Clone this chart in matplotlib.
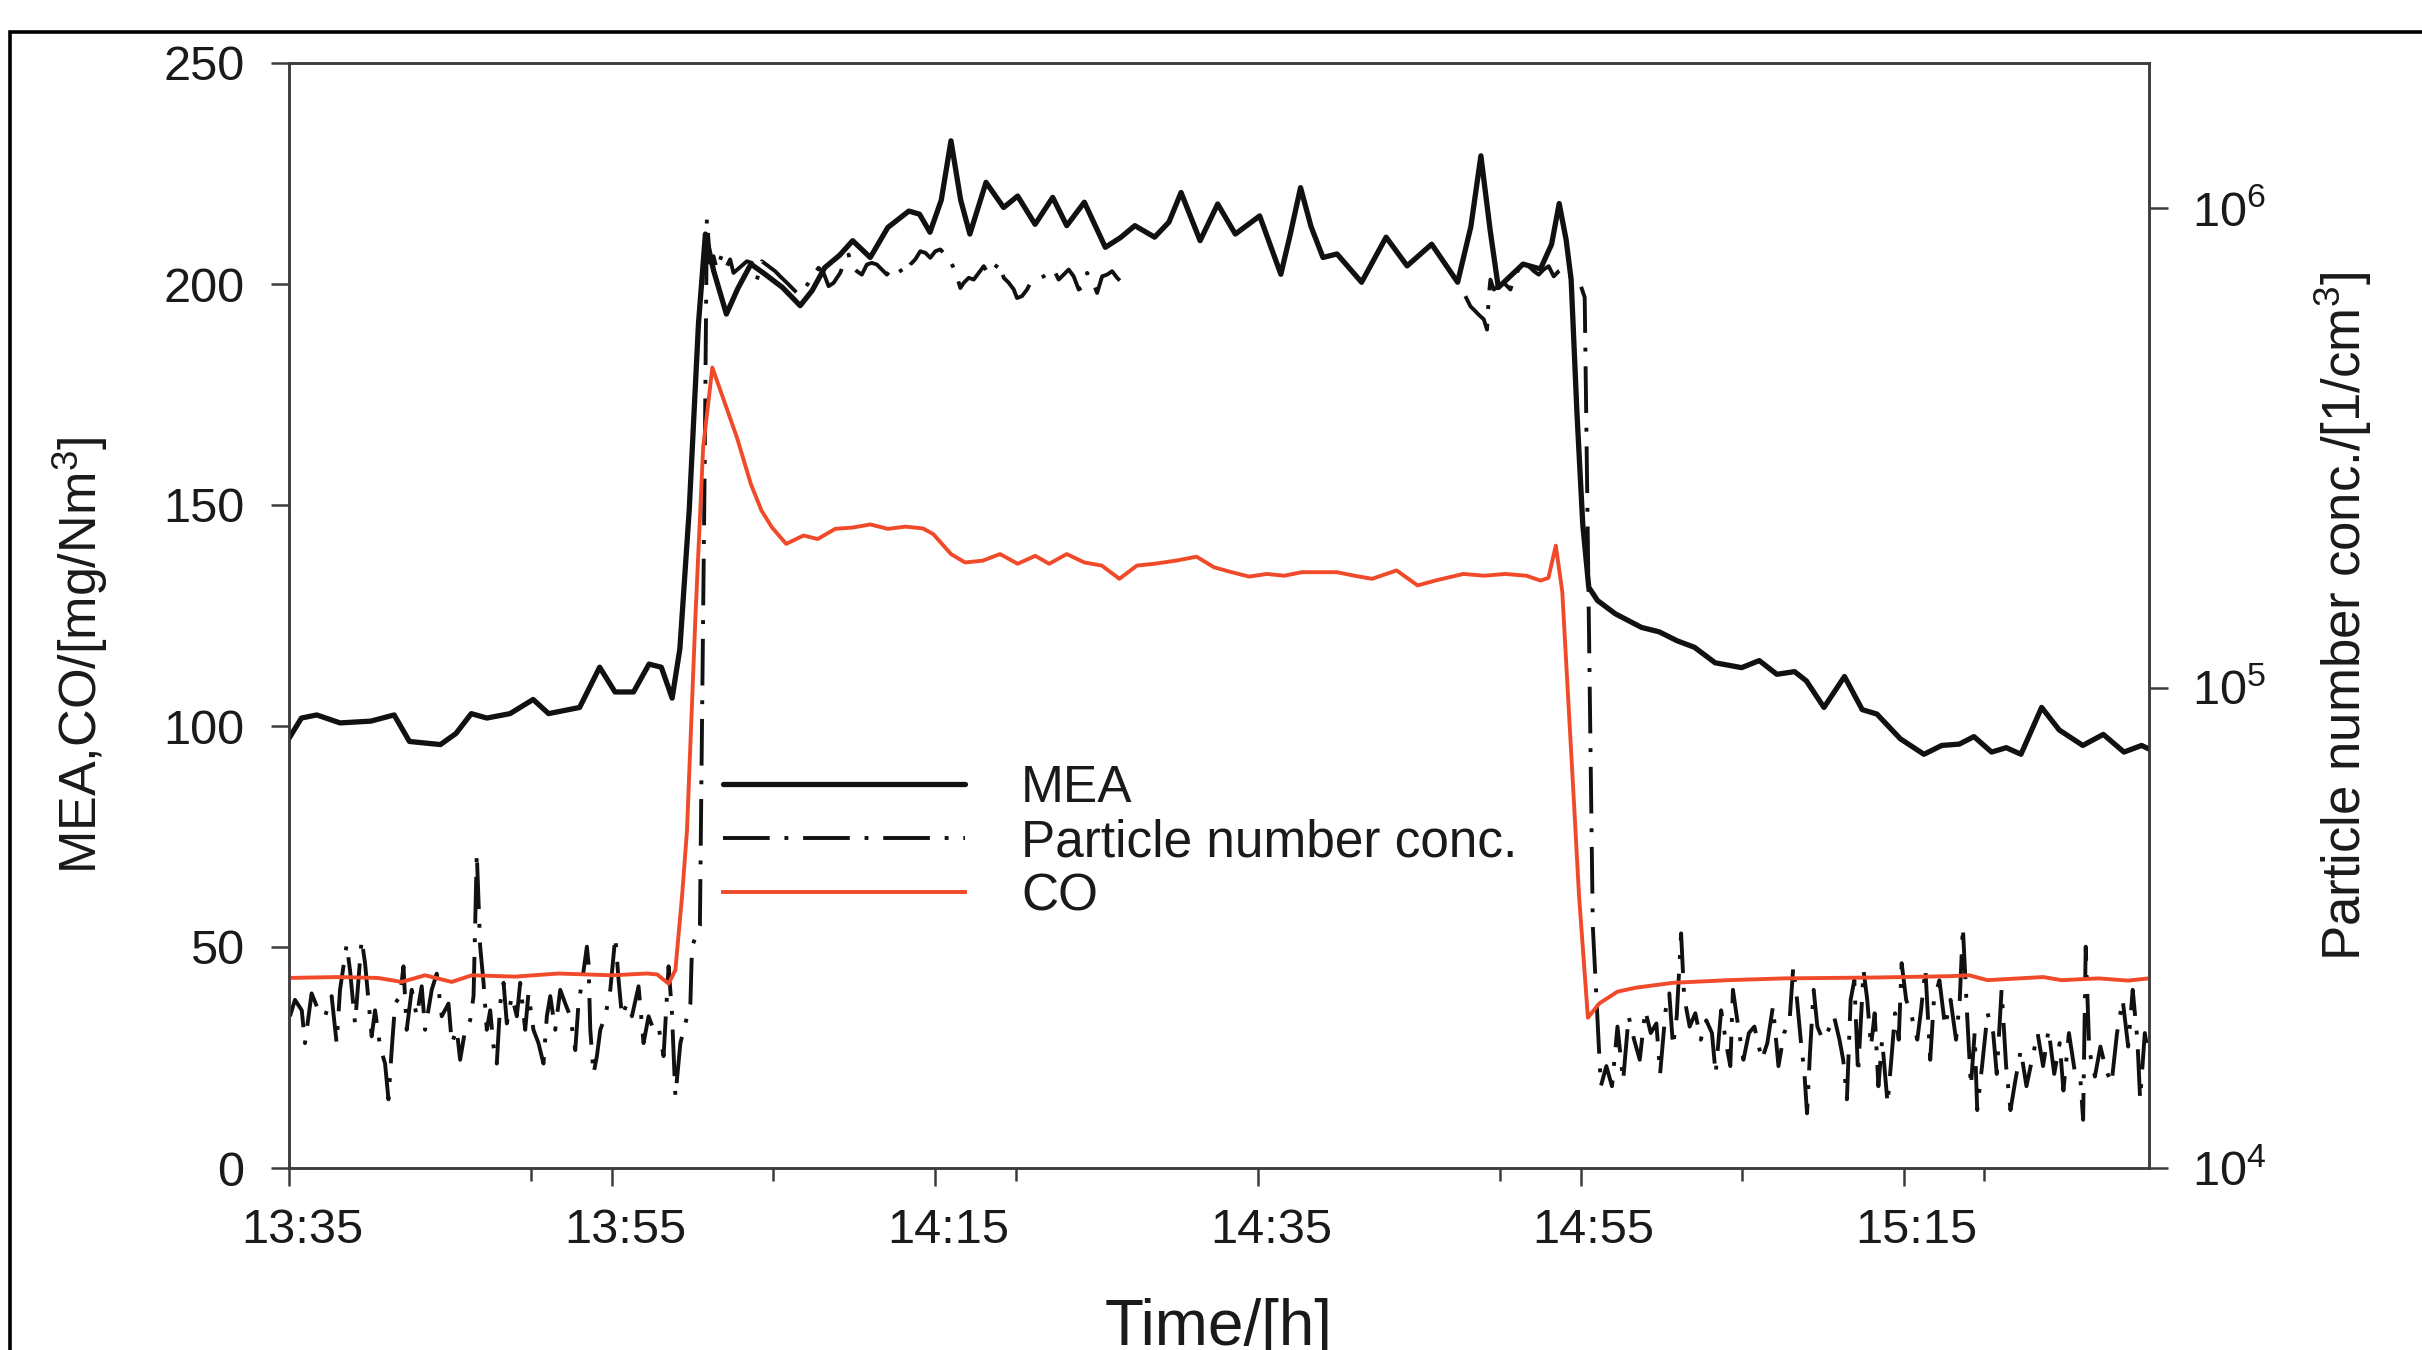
import numpy as np
import matplotlib
matplotlib.use("Agg")
import matplotlib.pyplot as plt
from matplotlib.ticker import FixedLocator, NullLocator
from matplotlib.transforms import ScaledTranslation
from matplotlib.patches import Rectangle

# ---------------- data (time in minutes after 13:35) ----------------
xtick_minutes = [0, 20, 40, 60, 80, 100]
xtick_labels = ["13:35", "13:55", "14:15", "14:35", "14:55", "15:15"]
xminor_minutes = [15, 30, 45, 60, 75, 90, 105]
left_ticks = [0, 50, 100, 150, 200, 250]
right_ticks = [1e4, 1e5, 1e6]

mea_t = [0.0, 0.77, 1.72, 3.16, 5.07, 6.51, 7.46, 9.38, 10.34, 11.29, 12.25, 13.69, 15.12,
         16.08, 18.0, 19.24, 20.19, 21.34, 22.3, 23.06, 23.73, 24.21, 24.79, 25.36, 25.79,
         26.3, 27.09, 27.8, 28.61, 29.49, 30.57, 31.66, 32.4, 33.18, 34.1, 34.91, 36.0,
         37.09, 38.39, 39.05, 39.70, 40.4, 41.0, 41.6, 42.17, 43.17, 44.26, 45.13, 46.21,
         47.30, 48.17, 49.26, 50.56, 51.5, 52.39, 53.61, 54.5, 55.25, 56.43, 57.52, 58.61,
         60.12, 61.43, 62.0, 62.65, 63.3, 64.04, 64.91, 66.43, 67.95, 69.25, 70.77, 72.38,
         73.2, 73.82, 74.4, 74.90, 76.43, 77.51, 78.2, 78.67, 79.1, 79.41, 79.77, 80.13,
         80.50, 81.04, 82.14, 83.77, 84.87, 85.96, 87.05, 88.33, 89.97, 91.06, 92.15, 93.25,
         93.98, 95.07, 96.34, 97.44, 98.35, 99.80, 101.26, 102.36, 103.45, 104.36, 105.45,
         106.36, 107.27, 108.55, 109.64, 111.10, 112.37, 113.65, 114.74, 115.2]
mea_v = [97.2, 101.8, 102.5, 100.7, 101.1, 102.5, 96.5, 95.8, 98.3, 102.8, 101.8, 102.8, 106.0,
         102.8, 104.2, 113.3, 107.7, 107.7, 114.0, 113.3, 106.3, 117.5, 149.0, 191.0, 211.3,
         203.0, 193.2, 199.0, 204.5, 202.2, 199.2, 195.1, 198.5, 203.7, 206.5, 209.8, 206.0,
         212.8, 216.5, 215.8, 211.7, 219.0, 232.4, 219.0, 211.3, 223.0, 217.3, 219.9, 213.5,
         219.6, 213.2, 218.5, 208.3, 210.5, 213.2, 210.6, 214.0, 220.7, 209.8, 218.1, 211.3,
         215.4, 202.2, 211.0, 221.8, 213.0, 206.0, 206.8, 200.4, 210.6, 204.1, 209.0, 200.4,
         213.0, 229.0, 212.0, 199.2, 204.5, 203.4, 209.0, 218.2, 210.0, 201.0, 170.8, 145.6,
         131.4, 128.4, 125.4, 122.3, 121.3, 119.3, 117.8, 114.3, 113.2, 114.8, 111.7, 112.3,
         110.2, 104.2, 111.2, 103.7, 102.7, 97.1, 93.6, 95.6, 95.9, 97.6, 94.1,
         95.1, 93.6, 104.2, 99.1, 95.6, 98.1, 94.1, 95.6, 94.8]

co_t = [0.0, 3.0, 5.5, 6.98, 8.43, 10.08, 11.32, 14.0, 16.69, 20.0, 22.17, 22.8, 23.51, 23.93,
        24.34, 24.65, 25.17, 25.65, 26.22, 27.74, 28.61, 29.27, 29.92, 30.79, 31.87, 32.74,
        33.83, 34.92, 36.0, 37.09, 38.18, 39.26, 39.91, 41.0, 41.87, 42.96, 44.04, 45.13,
        46.22, 47.08, 48.17, 49.26, 50.34, 51.43, 52.52, 53.60, 54.91, 56.21, 57.30, 58.38,
        59.47, 60.56, 61.64, 62.73, 64.90, 65.99, 67.08, 68.60, 69.90, 70.99, 72.73, 74.03,
        75.33, 76.64, 77.51, 78.0, 78.46, 78.86, 79.58, 79.9, 80.45, 81.14, 82.28, 83.43,
        85.72, 89.16, 92.6, 98.33, 102.91, 104.06, 105.2, 108.64, 109.79, 112.08, 113.91, 115.2]
co_v = [43.0, 43.2, 43.0, 42.1, 43.6, 42.1, 43.6, 43.3, 44.0, 43.6, 44.0, 43.8, 41.7, 44.8,
        61.3, 76.4, 124.5, 163.0, 181.1, 165.3, 154.7, 148.7, 144.9, 141.2, 143.1, 142.3,
        144.6, 144.9, 145.6, 144.6, 145.1, 144.7, 143.4, 138.9, 137.0, 137.4, 138.9, 136.7,
        138.5, 136.7, 138.9, 137.0, 136.3, 133.3, 136.3, 136.7, 137.4, 138.3, 135.9, 134.8,
        133.8, 134.4, 134.0, 134.8, 134.8, 134.0, 133.3, 135.2, 131.8, 132.9, 134.4, 134.0,
        134.4, 134.0, 132.9, 133.5, 140.8, 130.4, 83.0, 61.5, 34.0, 37.2, 39.9, 40.8,
        41.9, 42.5, 42.9, 43.1, 43.4, 43.6, 42.5, 43.2, 42.5, 42.9, 42.4, 42.9]

pn_t = [0.06, 0.37, 0.79, 0.99, 1.40, 1.82, 2.23, 2.64, 2.95, 3.16, 3.57, 3.78, 4.09, 4.50,
        4.71, 4.92, 5.12, 5.33, 5.64, 5.95, 6.16, 6.36, 6.57, 6.88, 7.09, 7.29, 7.60, 7.91,
        8.22, 8.43, 8.84, 9.15, 9.46, 9.88, 10.08, 10.39, 10.60, 10.91, 11.22, 11.43, 11.63,
        11.84, 12.05, 12.25, 12.46, 12.67, 12.87, 13.08, 13.29, 13.49, 13.80, 14.11, 14.32,
        14.63, 14.83, 15.14, 15.45, 15.76, 15.97, 16.18, 16.49, 16.80, 17.11, 17.42, 17.73,
        17.93, 18.14, 18.45, 18.55, 18.66, 18.86, 19.07, 19.28, 19.59, 19.90, 20.21, 20.41,
        20.62, 20.93, 21.24, 21.65, 21.96, 22.27, 22.58, 22.89, 23.20, 23.51, 23.72, 23.93,
        24.24, 24.55, 24.86, 24.96, 25.45, 25.75, 25.88,
        26.09, 26.29, 26.50, 26.81, 27.12, 27.32, 27.53, 28.36, 28.67, 28.98, 29.29, 29.70,
        30.11, 30.42, 30.84, 31.25, 31.56, 31.87, 32.18, 32.49, 32.80, 33.11, 33.42, 33.73,
        34.14, 34.45, 34.66, 34.86, 35.17, 35.48, 35.79, 36.10, 36.41, 36.72, 37.03, 37.45,
        37.76, 38.07, 38.48, 38.79, 39.10, 39.41, 39.72, 40.03, 40.34, 40.65, 40.96, 41.27,
        41.58, 41.79, 42.10, 42.41, 42.72, 43.03, 43.34, 43.65, 43.96, 44.27, 44.58, 44.89,
        45.09, 45.40, 45.71, 45.92, 46.33, 46.74, 47.05, 47.36, 47.67, 47.98, 48.29, 48.60,
        48.91, 49.22, 49.43, 49.74, 50.05, 50.36, 50.67, 50.98, 51.29, 51.49,
        60.0,
        72.86, 73.17, 73.38, 73.69, 74.00, 74.20, 74.31, 74.41, 74.62, 74.93, 75.24, 75.65,
        75.86, 76.27, 76.48, 76.79, 77.10, 77.40, 77.71, 78.02, 78.33, 78.64, 78.95, 79.26,
        79.57, 79.88, 80.25, 80.75,
        81.25, 81.59, 81.94, 82.28, 82.63, 82.97, 83.31, 83.66, 84.00, 84.34, 84.69, 84.92,
        85.26, 85.49, 85.72, 85.95, 86.22, 86.41, 86.75, 87.10, 87.44, 87.78, 88.13, 88.36,
        88.70, 89.04, 89.27, 89.43, 89.73, 90.08, 90.42, 90.76, 91.22, 91.56, 91.91, 92.25,
        92.60, 92.94, 93.17, 93.40, 93.63, 93.86, 94.02, 94.20, 94.43, 94.66, 95.00, 95.35,
        95.69, 96.03, 96.26, 96.49, 96.72, 96.95, 97.18, 97.52, 97.75, 97.98, 98.21, 98.44,
        98.67, 99.01, 99.24, 99.47, 99.70, 99.88, 100.16, 100.50, 100.85, 101.08, 101.35,
        101.65, 101.88, 102.22, 102.57, 102.91, 103.25, 103.48, 103.67, 103.94, 104.17,
        104.40, 104.56, 104.86, 105.20, 105.55, 105.77, 106.07, 106.35, 106.62, 106.92,
        107.26, 107.61, 107.95, 108.30, 108.64, 108.98, 109.33, 109.67, 109.90, 110.24,
        110.59, 110.93, 111.12, 111.28, 111.50, 111.85, 112.19, 112.54, 112.88, 113.22,
        113.57, 113.91, 114.19, 114.48, 114.65, 114.94, 115.17]
pn_v = [2.07e4, 2.24e4, 2.13e4, 1.82e4, 2.31e4, 2.13e4, 2.07e4, 2.28e4, 1.82e4, 2.35e4, 2.92e4,
        2.58e4, 2.00e4, 2.99e4, 2.67e4, 2.24e4, 1.88e4, 2.13e4, 1.79e4, 1.65e4, 1.39e4, 1.76e4,
        2.20e4, 2.28e4, 2.63e4, 1.94e4, 2.35e4, 2.07e4, 2.39e4, 1.94e4, 2.35e4, 2.54e4, 2.07e4,
        2.20e4, 1.82e4, 1.94e4, 1.68e4, 1.94e4, 2.03e4, 2.28e4, 4.53e4, 2.89e4, 2.43e4, 1.94e4,
        2.13e4, 1.79e4, 1.65e4, 2.20e4, 2.43e4, 2.00e4, 2.28e4, 2.07e4, 2.43e4, 1.94e4, 2.31e4,
        1.94e4, 1.82e4, 1.65e4, 2.07e4, 2.28e4, 1.94e4, 2.35e4, 2.20e4, 2.07e4, 1.76e4, 2.20e4,
        2.43e4, 2.89e4, 2.67e4, 1.94e4, 1.57e4, 1.71e4, 1.94e4, 2.07e4, 2.35e4, 3.03e4, 2.47e4,
        2.07e4, 2.20e4, 2.07e4, 2.39e4, 1.82e4, 2.07e4, 1.94e4, 1.97e4, 1.71e4, 2.63e4, 2.10e4,
        1.41e4, 1.82e4, 2.00e4, 2.20e4, 2.89e4, 3.2e4, 3.0e5, 9.47e5,
        7.67e5, 7.92e5, 7.43e5, 7.98e5, 7.55e5, 7.80e5, 7.31e5, 7.73e5, 7.67e5, 7.08e5, 7.73e5,
        7.55e5, 7.37e5, 7.19e5, 6.97e5, 6.75e5, 6.59e5, 6.75e5, 6.97e5, 7.25e5, 7.49e5, 7.31e5,
        6.86e5, 6.97e5, 7.31e5, 7.80e5, 7.98e5, 7.55e5, 7.37e5, 7.25e5, 7.61e5, 7.67e5, 7.61e5,
        7.43e5, 7.25e5, 7.55e5, 7.49e5, 7.25e5, 7.61e5, 7.80e5, 8.11e5, 8.05e5, 7.86e5, 8.11e5,
        8.18e5, 7.98e5, 7.73e5, 7.37e5, 6.80e5, 6.97e5, 7.14e5, 7.08e5, 7.31e5, 7.55e5, 7.25e5,
        7.43e5, 7.67e5, 7.14e5, 6.97e5, 6.75e5, 6.48e5, 6.54e5, 6.75e5, 6.97e5, 7.08e5, 7.19e5,
        7.31e5, 7.43e5, 7.08e5, 7.25e5, 7.43e5, 7.19e5, 6.75e5, 6.86e5, 7.31e5, 7.08e5, 6.64e5,
        7.19e5, 7.25e5, 7.37e5, 7.14e5, 7.03e5,
        np.nan,
        6.54e5, 6.23e5, 6.13e5, 5.98e5, 5.85e5, 5.57e5, 6.54e5, 7.08e5, 6.75e5, 6.86e5, 6.97e5,
        6.75e5, 7.14e5, 7.55e5, 7.73e5, 7.55e5, 7.37e5, 7.25e5, 7.43e5, 7.55e5, 7.19e5, 7.37e5,
        7.49e5, 7.25e5, 7.08e5, 7.08e5, 6.5e5, 3.2e4,
        1.48e4, 1.63e4, 1.48e4, 1.97e4, 1.52e4, 2.07e4, 1.85e4, 1.68e4, 2.13e4, 1.91e4, 2.00e4,
        1.57e4, 2.13e4, 2.31e4, 1.79e4, 2.07e4, 3.08e4, 2.27e4, 1.97e4, 2.10e4, 1.85e4, 2.03e4,
        1.91e4, 1.57e4, 2.13e4, 1.79e4, 1.63e4, 2.35e4, 2.00e4, 1.68e4, 1.91e4, 1.97e4, 1.68e4,
        1.82e4, 2.17e4, 1.63e4, 1.91e4, 2.03e4, 2.63e4, 2.24e4, 1.85e4, 1.57e4, 1.30e4, 1.73e4,
        2.35e4, 1.97e4, 1.85e4, 1.94e4, 2.07e4, 1.85e4, 1.68e4, 1.39e4, 2.24e4, 2.46e4, 1.57e4,
        2.58e4, 2.24e4, 1.79e4, 2.10e4, 1.48e4, 1.85e4, 1.36e4, 1.68e4, 2.10e4, 1.85e4, 2.67e4,
        2.24e4, 2.07e4, 1.85e4, 2.13e4, 2.60e4, 1.68e4, 2.24e4, 2.46e4, 1.97e4, 2.24e4, 1.85e4,
        2.24e4, 3.18e4, 2.07e4, 1.48e4, 1.91e4, 1.32e4, 1.63e4, 2.10e4, 1.91e4, 1.57e4, 2.35e4,
        1.63e4, 1.32e4, 1.52e4, 1.76e4, 1.48e4, 1.68e4, 1.91e4, 1.63e4, 1.94e4, 1.57e4, 1.82e4,
        1.45e4, 1.91e4, 1.60e4, 1.57e4, 1.26e4, 2.89e4, 1.76e4, 1.55e4, 1.79e4, 1.60e4, 1.50e4,
        1.91e4, 2.24e4, 1.79e4, 2.35e4, 1.85e4, 1.39e4, 1.91e4, 1.71e4]

# ---------------- style ----------------
plt.rcParams["font.family"] = ["Liberation Sans", "DejaVu Sans"]
plt.rcParams["mathtext.fontset"] = "custom"
plt.rcParams["mathtext.rm"] = "Liberation Sans"
plt.rcParams["mathtext.it"] = "Liberation Sans"
plt.rcParams["mathtext.default"] = "regular"

W, H = 2422, 1350
TXT = "#1a1a1a"
AXC = "#3c3c3c"
RED = "#F04A2A"

fig = plt.figure(figsize=(W / 100, H / 100), dpi=100)
fig.patch.set_facecolor("white")
ax = fig.add_axes([289 / W, 1 - 1168 / H, 1860 / W, 1105 / H])
ax2 = ax.twinx()
ax.set_zorder(ax2.get_zorder() + 1)
ax.patch.set_visible(False)

l_pn, = ax2.plot(pn_t, pn_v, color="#111111", lw=2.8,
                 linestyle=(0, (12.0, 3.8, 1.0, 3.8)), label="Particle number conc.")
l_mea, = ax.plot(mea_t, mea_v, color="#111111", lw=3.8, label="MEA",
                 solid_joinstyle="round", solid_capstyle="round")
l_co, = ax.plot(co_t, co_v, color=RED, lw=2.8, label="CO", solid_joinstyle="round")

ax.set_xlim(0, 115.2)
ax.set_ylim(0, 250)
ax2.set_yscale("log")
ax2.set_ylim(1e4, 2e6)

ax.xaxis.set_major_locator(FixedLocator(xtick_minutes))
ax.set_xticklabels(xtick_labels)
ax.xaxis.set_minor_locator(FixedLocator(xminor_minutes))
ax.yaxis.set_major_locator(FixedLocator(left_ticks))
ax.yaxis.set_minor_locator(NullLocator())
ax2.yaxis.set_major_locator(FixedLocator(right_ticks))
ax2.yaxis.set_minor_locator(NullLocator())

for a in (ax, ax2):
    for s in a.spines.values():
        s.set_linewidth(1.8)
        s.set_color(AXC)

ax.tick_params(axis="both", which="major", direction="out", length=13, width=1.8,
               color=AXC, labelsize=35, labelcolor=TXT, pad=19)
ax.tick_params(axis="x", which="minor", direction="out", length=9, width=1.8, color=AXC)
ax.tick_params(axis="x", which="major", pad=16)
ax2.tick_params(axis="y", which="major", direction="out", length=14, width=1.8,
                color=AXC, labelsize=35, labelcolor=TXT, pad=17)

offset = ScaledTranslation(13 / 100, 0, fig.dpi_scale_trans)
for lbl in ax.get_xticklabels():
    lbl.set_transform(lbl.get_transform() + offset)

fig.text(80 / W, 1 - 655 / H, "MEA,CO/[mg/Nm$^3$]", rotation=90, ha="center",
         va="center", fontsize=37.5, color=TXT)
fig.text(2343 / W, 1 - 616 / H, "Particle number conc./[1/cm$^3$]", rotation=90,
         ha="center", va="center", fontsize=38, color=TXT)
fig.text(1219 / W, 1 - 1345 / H, "Time/[h]", ha="center", va="baseline",
         fontsize=46, color=TXT)

leg = ax.legend([l_mea, l_pn, l_co], ["MEA", "Particle number conc.", "CO"],
                loc="upper left", bbox_to_anchor=(723 / W, 1 - 764 / H),
                bbox_transform=fig.transFigure, frameon=False, fontsize=37,
                handlelength=4.7, handletextpad=1.1, labelspacing=0.1,
                borderpad=0, borderaxespad=0)
for t in leg.get_texts():
    t.set_color(TXT)

fig.add_artist(Rectangle((10 / W, -0.5), 5.0, 0.5 + 1 - 32 / H, transform=fig.transFigure,
                         fill=False, edgecolor="black", linewidth=2.6))

fig.savefig("out.png", dpi=100)
